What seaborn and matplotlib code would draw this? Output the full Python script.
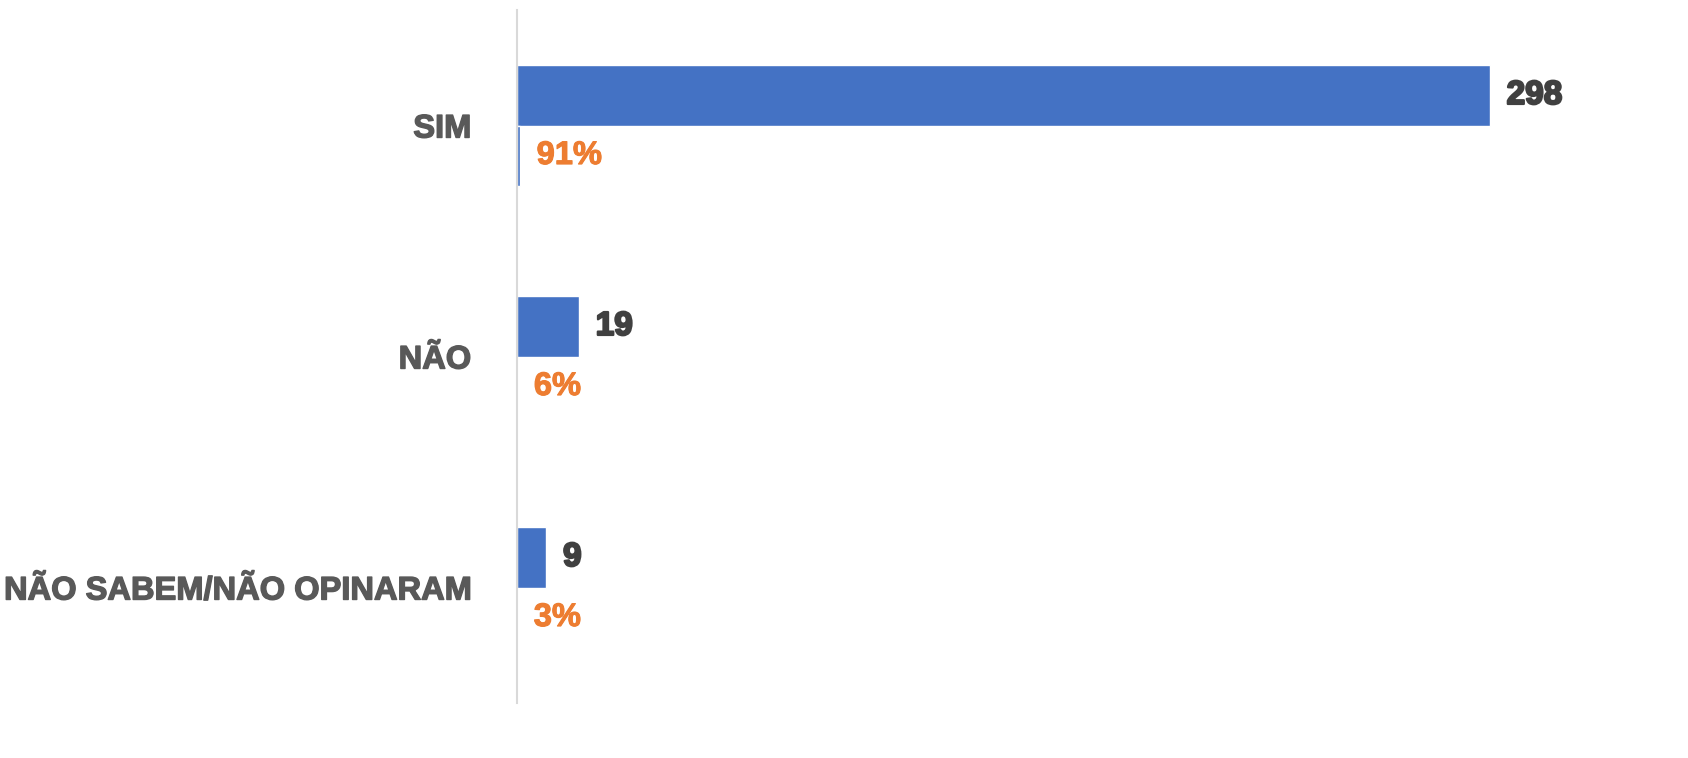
import matplotlib
matplotlib.use("Agg")
import matplotlib.pyplot as plt
import matplotlib.patheffects as pe
import pandas as pd
import seaborn as sns

categories = ["SIM", "NÃO", "NÃO SABEM/NÃO OPINARAM"]
counts = [298, 19, 9]
percents = [0.91, 0.06, 0.03]
pct_labels = ["91%", "6%", "3%"]

sns.set_theme(style="white")
plt.rcParams["font.family"] = ["Liberation Sans", "DejaVu Sans"]

df = pd.DataFrame({
    "categoria": categories * 2,
    "serie": ["total"] * 3 + ["pct"] * 3,
    "valor": counts + percents,
})

fig = plt.figure(figsize=(16.88, 7.58), dpi=100)
ax = fig.add_axes([517 / 1688, 1 - 703 / 758, 1103 / 1688, 693 / 758])

sns.barplot(data=df, y="categoria", x="valor", hue="serie", orient="h",
            palette=["#4472C4", "#4472C4"], width=0.52, dodge=True,
            legend=False, ax=ax, saturation=1)

ax.set_xlim(0, 1103 / 3.265)
ax.set_ylim(2.5, -0.5)
ax.set_xlabel("")
ax.set_ylabel("")
ax.set_xticks([])
for s in ["top", "right", "bottom"]:
    ax.spines[s].set_visible(False)
ax.spines["left"].set_color("#D9D9D9")
ax.spines["left"].set_linewidth(1.5)
ax.tick_params(axis="y", length=0, pad=33)
for lbl in ax.get_yticklabels():
    lbl.set_fontsize(23.5)
    lbl.set_fontweight("bold")
    lbl.set_color("#595959")
    lbl.set_path_effects([pe.withStroke(linewidth=1.0, foreground="#595959")])

# rótulos de dados
count_bars = ax.containers[0]
pct_bars = ax.containers[1]
txt = ax.bar_label(count_bars, labels=[str(c) for c in counts], padding=12,
                   fontsize=24, fontweight="bold", color="#404040")
for t in txt:
    t.set_path_effects([pe.withStroke(linewidth=1.6, foreground="#404040")])
txt = ax.bar_label(pct_bars, labels=pct_labels, padding=12,
                   fontsize=23.5, fontweight="bold", color="#ED7D31")
for t in txt:
    t.set_path_effects([pe.withStroke(linewidth=0.8, foreground="#ED7D31")])

plt.savefig("out.png", dpi=100)
